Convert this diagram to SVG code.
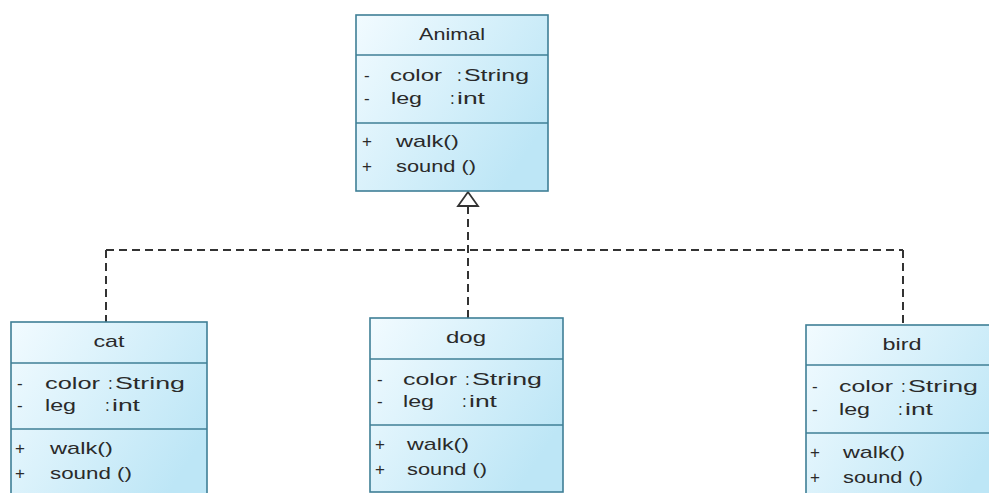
<svg xmlns="http://www.w3.org/2000/svg" width="989" height="493" viewBox="0 0 989 493">
<style>
.box{fill:url(#g);stroke:#3f7f96;stroke-width:1.6}
.sep{stroke:#3f7f96;stroke-width:1.6}
text{font-family:"Liberation Sans",Arial,sans-serif;font-size:17px;fill:#2a2a2a}
.hd{text-anchor:middle}
.dash{fill:none;stroke:#333;stroke-width:2;stroke-dasharray:8 5}
</style>
<defs>
<linearGradient id="g" x1="0" y1="0" x2="1" y2="0.6">
<stop offset="0" stop-color="#f2fbff"/>
<stop offset="1" stop-color="#bde6f6"/>
</linearGradient>
</defs>
<rect width="989" height="493" fill="#fff"/>
<g id="connectors">
<path class="dash" d="M106 250 H903"/>
<path class="dash" d="M106 250 V322"/>
<path class="dash" d="M468 206 V318"/>
<path class="dash" d="M903 250 V325"/>
<polygon points="468,192 458,206 478,206" fill="#fff" stroke="#333" stroke-width="1.8"/>
</g>
<g id="Animal">
<rect class="box" x="356" y="15" width="192" height="176"/>
<line class="sep" x1="356" y1="55" x2="548" y2="55"/>
<line class="sep" x1="356" y1="123" x2="548" y2="123"/>
<text class="hd" x="452" y="40" textLength="66" lengthAdjust="spacingAndGlyphs">Animal</text>
<text x="364" y="81">-</text><text x="390" y="81" textLength="52" lengthAdjust="spacingAndGlyphs">color</text><text x="457" y="81">:</text><text x="464" y="81" textLength="65" lengthAdjust="spacingAndGlyphs">String</text>
<text x="364" y="104">-</text><text x="391" y="104" textLength="31" lengthAdjust="spacingAndGlyphs">leg</text><text x="450" y="104">:</text><text x="457" y="104" textLength="28" lengthAdjust="spacingAndGlyphs">int</text>
<text x="362" y="147">+</text><text x="396" y="147" textLength="63" lengthAdjust="spacingAndGlyphs">walk()</text>
<text x="362" y="172">+</text><text x="396" y="172" textLength="80" lengthAdjust="spacingAndGlyphs">sound ()</text>
</g>
<g id="cat">
<rect class="box" x="11" y="322" width="196" height="185"/>
<line class="sep" x1="11" y1="363" x2="207" y2="363"/>
<line class="sep" x1="11" y1="429" x2="207" y2="429"/>
<text class="hd" x="109" y="347" textLength="31" lengthAdjust="spacingAndGlyphs">cat</text>
<text x="17" y="389">-</text><text x="45" y="389" textLength="55" lengthAdjust="spacingAndGlyphs">color</text><text x="108" y="389">:</text><text x="115" y="389" textLength="70" lengthAdjust="spacingAndGlyphs">String</text>
<text x="17" y="411">-</text><text x="45" y="411" textLength="31" lengthAdjust="spacingAndGlyphs">leg</text><text x="105" y="411">:</text><text x="112" y="411" textLength="28" lengthAdjust="spacingAndGlyphs">int</text>
<text x="15" y="454">+</text><text x="50" y="454" textLength="63" lengthAdjust="spacingAndGlyphs">walk()</text>
<text x="15" y="479">+</text><text x="50" y="479" textLength="82" lengthAdjust="spacingAndGlyphs">sound ()</text>
</g>
<g id="dog">
<rect class="box" x="370" y="318" width="193" height="174"/>
<line class="sep" x1="370" y1="359" x2="563" y2="359"/>
<line class="sep" x1="370" y1="425" x2="563" y2="425"/>
<text class="hd" x="466" y="343" textLength="40" lengthAdjust="spacingAndGlyphs">dog</text>
<text x="377" y="385">-</text><text x="403" y="385" textLength="54" lengthAdjust="spacingAndGlyphs">color</text><text x="465" y="385">:</text><text x="472" y="385" textLength="70" lengthAdjust="spacingAndGlyphs">String</text>
<text x="377" y="407">-</text><text x="403" y="407" textLength="31" lengthAdjust="spacingAndGlyphs">leg</text><text x="462" y="407">:</text><text x="469" y="407" textLength="28" lengthAdjust="spacingAndGlyphs">int</text>
<text x="375" y="450">+</text><text x="407" y="450" textLength="62" lengthAdjust="spacingAndGlyphs">walk()</text>
<text x="375" y="475">+</text><text x="407" y="475" textLength="80" lengthAdjust="spacingAndGlyphs">sound ()</text>
</g>
<g id="bird">
<rect class="box" x="806" y="325" width="196" height="185"/>
<line class="sep" x1="806" y1="365" x2="1002" y2="365"/>
<line class="sep" x1="806" y1="433" x2="1002" y2="433"/>
<text class="hd" x="902" y="350" textLength="39" lengthAdjust="spacingAndGlyphs">bird</text>
<text x="812" y="392">-</text><text x="839" y="392" textLength="54" lengthAdjust="spacingAndGlyphs">color</text><text x="901" y="392">:</text><text x="908" y="392" textLength="70" lengthAdjust="spacingAndGlyphs">String</text>
<text x="812" y="415">-</text><text x="839" y="415" textLength="31" lengthAdjust="spacingAndGlyphs">leg</text><text x="898" y="415">:</text><text x="905" y="415" textLength="28" lengthAdjust="spacingAndGlyphs">int</text>
<text x="810" y="458">+</text><text x="843" y="458" textLength="62" lengthAdjust="spacingAndGlyphs">walk()</text>
<text x="810" y="483">+</text><text x="843" y="483" textLength="80" lengthAdjust="spacingAndGlyphs">sound ()</text>
</g>
</svg>
